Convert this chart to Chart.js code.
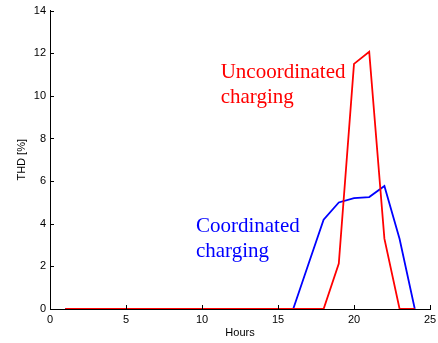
<!DOCTYPE html>
<html>
<head>
<meta charset="utf-8">
<script src="https://cdn.jsdelivr.net/npm/chart.js@4.4.0/dist/chart.umd.min.js"></script>
<style>
  html, body { margin: 0; padding: 0; background: #fff; }
  #wrap { width: 438px; height: 343px; }
</style>
</head>
<body>
<div id="wrap"><canvas id="thdChart" width="438" height="343"></canvas></div>
<script>
// data
const hours = [1, 2, 3, 4, 5, 6, 7, 8, 9, 10, 11, 12, 13, 14, 15, 16, 17, 18, 19, 20, 21, 22, 23, 24];
const uncoordinated = [0, 0, 0, 0, 0, 0, 0, 0, 0, 0, 0, 0, 0, 0, 0, 0, 0, 0, 2.13, 11.5, 12.07, 3.3, 0, 0];
const coordinated = [0, 0, 0, 0, 0, 0, 0, 0, 0, 0, 0, 0, 0, 0, 0, 0, 2.1, 4.19, 5.0, 5.2, 5.25, 5.77, 3.28, 0];
const xTicks = [0, 5, 10, 15, 20, 25];
const yTicks = [0, 2, 4, 6, 8, 10, 12, 14];

// text labels placed in data units (hours, THD)
const notes = [
    { lines: ['Uncoordinated', 'charging'], x: 11.23, y: 10.84, color: '#ff0000' },
    { lines: ['Coordinated', 'charging'], x: 9.6, y: 3.62, color: '#0000ff' }
];

const toPoints = (ys) => hours.map((h, i) => ({ x: h, y: ys[i] }));

// inward tick marks + annotation text
const extras = {
    id: 'extras',
    afterDraw(chart) {
        const ctx = chart.ctx;
        const xs = chart.scales.x;
        const ys = chart.scales.y;
        const area = chart.chartArea;
        ctx.save();
        ctx.strokeStyle = '#000';
        ctx.lineWidth = 1;
        ctx.beginPath();
        xTicks.forEach(v => {
            const px = Math.round(xs.getPixelForValue(v)) + 0.5;
            ctx.moveTo(px, area.bottom);
            ctx.lineTo(px, area.bottom - 4);
        });
        yTicks.forEach(v => {
            const py = Math.round(ys.getPixelForValue(v)) + 0.5;
            ctx.moveTo(area.left, py);
            ctx.lineTo(area.left + 4, py);
        });
        ctx.stroke();

        ctx.font = '21px "Liberation Serif", "Times New Roman", serif';
        ctx.textAlign = 'left';
        ctx.textBaseline = 'alphabetic';
        notes.forEach(n => {
            ctx.fillStyle = n.color;
            const px = xs.getPixelForValue(n.x);
            const py = ys.getPixelForValue(n.y);
            n.lines.forEach((t, i) => ctx.fillText(t, px, py + i * 25));
        });
        ctx.restore();
    }
};

const tickFont = { family: '"Liberation Sans", Arial, sans-serif', size: 11 };

new Chart(document.getElementById('thdChart'), {
    type: 'line',
    data: {
        datasets: [
            { label: 'Uncoordinated charging', data: toPoints(uncoordinated), borderColor: '#ff0000', borderWidth: 1.8, pointRadius: 0, fill: false, tension: 0 },
            { label: 'Coordinated charging', data: toPoints(coordinated), borderColor: '#0000ff', borderWidth: 1.8, pointRadius: 0, fill: false, tension: 0 }
        ]
    },
    options: {
        responsive: false,
        animation: false,
        layout: { padding: { left: 0, right: 8, top: 9, bottom: 0 } },
        plugins: { legend: { display: false }, tooltip: { enabled: false } },
        scales: {
            x: {
                type: 'linear',
                min: 0,
                max: 25,
                afterBuildTicks: (s) => { s.ticks = xTicks.map(v => ({ value: v })); },
                afterFit: (s) => { s.height = 34; s.paddingRight = 0; },
                grid: { display: false, drawTicks: false },
                border: { display: true, color: '#000', width: 1 },
                ticks: { color: '#000', font: tickFont, padding: 4, maxRotation: 0 },
                title: { display: true, text: 'Hours', color: '#000', font: tickFont, padding: { top: 0, bottom: 3 } }
            },
            y: {
                min: 0,
                max: 14,
                afterBuildTicks: (s) => { s.ticks = yTicks.map(v => ({ value: v })); },
                afterFit: (s) => { s.width = 50; },
                grid: { display: false, drawTicks: false },
                border: { display: true, color: '#000', width: 1 },
                ticks: { color: '#000', font: tickFont, padding: 4 },
                title: { display: true, text: 'THD [%]', color: '#000', font: tickFont, padding: { top: 15, bottom: 0 } }
            }
        }
    },
    plugins: [extras]
});
</script>
</body>
</html>
